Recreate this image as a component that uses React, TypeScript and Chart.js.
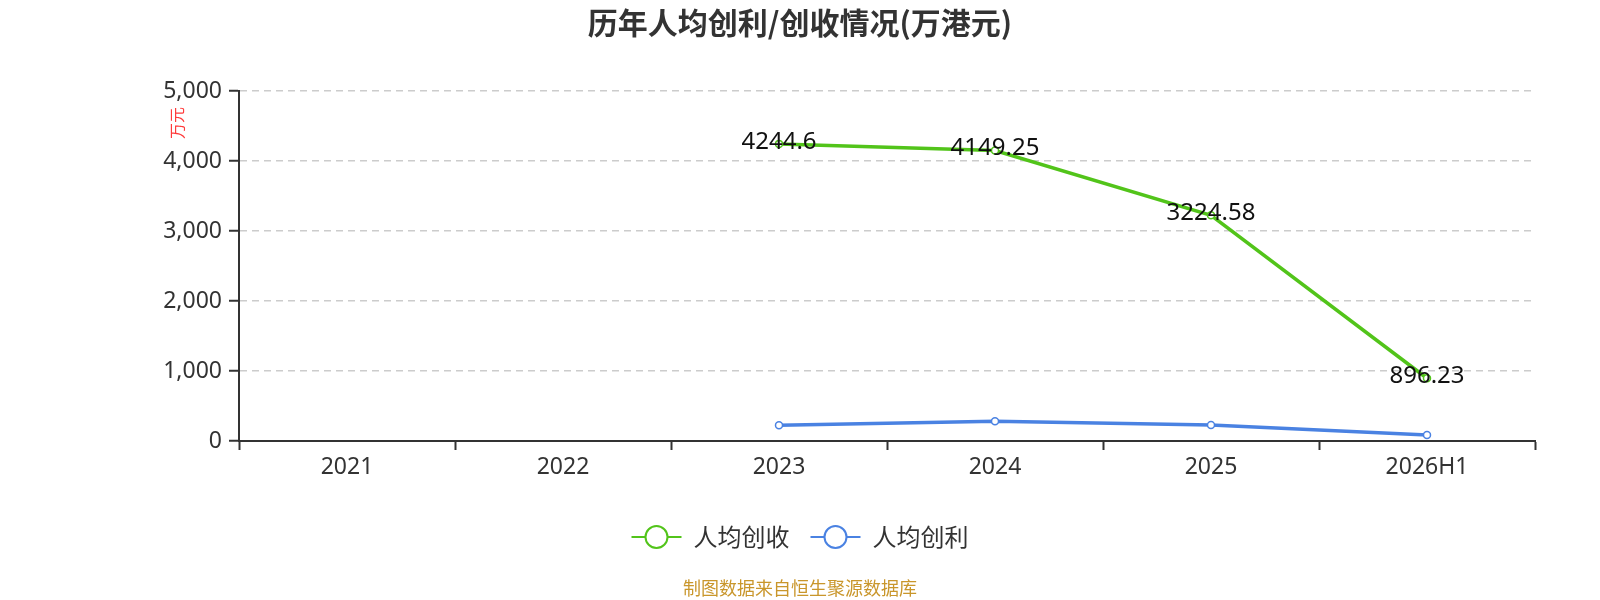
import { useEffect, useRef } from "react";
import { Chart, ChartConfiguration, Plugin } from "chart.js/auto";

type LineChartType = Chart<"line", (number | null)[], string>;

const years = ["2021", "2022", "2023", "2024", "2025", "2026H1"];
const revenuePerHead: (number | null)[] = [null, null, 4244.6, 4149.25, 3224.58, 896.23];
const profitPerHead: (number | null)[] = [null, null, 224, 281, 229, 85];
const seriesNames = ["人均创收", "人均创利"];
const yMin = 0;
const yMax = 5000;
const yStep = 1000;

const GREEN = "#52c41a";
const BLUE = "#4a82e2";
const FONT = "'Noto Sans', 'Noto Sans CJK SC', sans-serif";
const CJK = "'Noto Sans CJK SC', 'Noto Sans', sans-serif";

// title, unit, legend, footer and point labels drawn on the canvas
const decorPlugin: Plugin<"line"> = {
  id: "decor",
  afterDatasetsDraw(chart) {
    const ctx = chart.ctx;
    const meta = chart.getDatasetMeta(0);
    ctx.save();
    ctx.font = `24px ${FONT}`;
    ctx.fillStyle = "#111";
    ctx.textAlign = "center";
    ctx.textBaseline = "middle";
    meta.data.forEach((pt, i) => {
      const v = revenuePerHead[i];
      if (v == null) return;
      ctx.fillText(String(v), pt.x, pt.y - 2);
    });
    ctx.restore();
  },
  afterDraw(chart) {
    const ctx = chart.ctx;
    const cx = chart.width / 2;
    ctx.save();

    // title
    ctx.font = `bold 30px ${CJK}`;
    ctx.fillStyle = "#333";
    ctx.textAlign = "center";
    ctx.textBaseline = "middle";
    ctx.fillText("历年人均创利/创收情况(万港元)", cx, 23);

    // unit on y axis
    ctx.save();
    ctx.translate(177, 123);
    ctx.rotate(-Math.PI / 2);
    ctx.font = `16px ${CJK}`;
    ctx.fillStyle = "#ff3b3b";
    ctx.fillText("万元", 0, 0);
    ctx.restore();

    // legend
    const colors = [GREEN, BLUE];
    ctx.font = `24px ${CJK}`;
    const symW = 50;
    const textGap = 12;
    const itemGap = 21;
    const widths = seriesNames.map((n) => ctx.measureText(n).width);
    const total =
      widths.reduce((a, w) => a + symW + textGap + w, 0) + itemGap * (seriesNames.length - 1);
    let x = cx - total / 2;
    const ly = 537;
    seriesNames.forEach((name, i) => {
      ctx.strokeStyle = colors[i];
      ctx.lineWidth = 2;
      ctx.beginPath();
      ctx.moveTo(x, ly);
      ctx.lineTo(x + symW, ly);
      ctx.stroke();
      ctx.beginPath();
      ctx.arc(x + symW / 2, ly, 11, 0, Math.PI * 2);
      ctx.fillStyle = "#fff";
      ctx.fill();
      ctx.stroke();
      ctx.fillStyle = "#333";
      ctx.textAlign = "left";
      ctx.fillText(name, x + symW + textGap, ly);
      x += symW + textGap + widths[i] + itemGap;
    });

    // footer
    ctx.font = `18px ${CJK}`;
    ctx.fillStyle = "#c9962b";
    ctx.textAlign = "center";
    ctx.fillText("制图数据来自恒生聚源数据库", cx, 588);

    ctx.restore();
  },
};

export default function App() {
  const chartRef = useRef<HTMLCanvasElement | null>(null);
  const chartInstanceRef = useRef<LineChartType | null>(null);

  useEffect(() => {
    document.body.style.margin = "0";
    const canvas = chartRef.current;
    if (!canvas) return;
    const ctx = canvas.getContext("2d");
    if (!ctx) return;

    if (chartInstanceRef.current) {
      chartInstanceRef.current.destroy();
    }

    const lineStyle = (color: string) => ({
      borderColor: color,
      backgroundColor: color,
      borderWidth: 3.5,
      tension: 0,
      pointRadius: 3.5,
      pointBorderWidth: 1.5,
      pointBackgroundColor: "#fff",
      pointBorderColor: color,
      pointHoverRadius: 3.5,
    });

    const config: ChartConfiguration<"line", (number | null)[], string> = {
      type: "line",
      data: {
        labels: years,
        datasets: [
          { label: seriesNames[0], data: revenuePerHead, ...lineStyle(GREEN) },
          { label: seriesNames[1], data: profitPerHead, ...lineStyle(BLUE) },
        ],
      },
      options: {
        responsive: false,
        animation: false,
        devicePixelRatio: 1,
        layout: {
          padding: { top: 91, right: 65, bottom: 99, left: 0 },
        },
        scales: {
          x: {
            type: "category",
            offset: true,
            afterFit: (scale) => {
              scale.height = 60;
            },
            grid: {
              display: true,
              drawOnChartArea: false,
              drawTicks: true,
              tickLength: 9,
              tickWidth: 2,
              tickColor: "#333",
              color: "#333",
              offset: true,
            },
            border: { display: true, color: "#333", width: 2 },
            ticks: {
              color: "#333",
              font: { size: 23, family: FONT },
              padding: 4,
              maxRotation: 0,
              autoSkip: false,
            },
          },
          y: {
            min: yMin,
            max: yMax,
            afterFit: (scale) => {
              scale.width = 239;
            },
            grid: {
              color: "#cccccc",
              lineWidth: 1.5,
              drawTicks: true,
              tickLength: 10,
              tickWidth: 2,
              tickColor: "#333",
              tickBorderDash: [],
            },
            border: { display: true, color: "#333", width: 2, dash: [7, 5] },
            ticks: {
              stepSize: yStep,
              color: "#333",
              font: { size: 23, family: FONT },
              padding: 7,
              callback: (v) => Number(v).toLocaleString("en-US"),
            },
          },
        },
        plugins: {
          legend: { display: false },
          title: { display: false },
          tooltip: { enabled: false },
        },
      },
      plugins: [decorPlugin],
    };

    chartInstanceRef.current = new Chart(ctx, config);

    return () => {
      if (chartInstanceRef.current) {
        chartInstanceRef.current.destroy();
        chartInstanceRef.current = null;
      }
    };
  }, []);

  return (
    <div style={{ width: 1600, height: 600, background: "#fff" }}>
      <canvas ref={chartRef} width={1600} height={600} style={{ display: "block" }} />
    </div>
  );
}
